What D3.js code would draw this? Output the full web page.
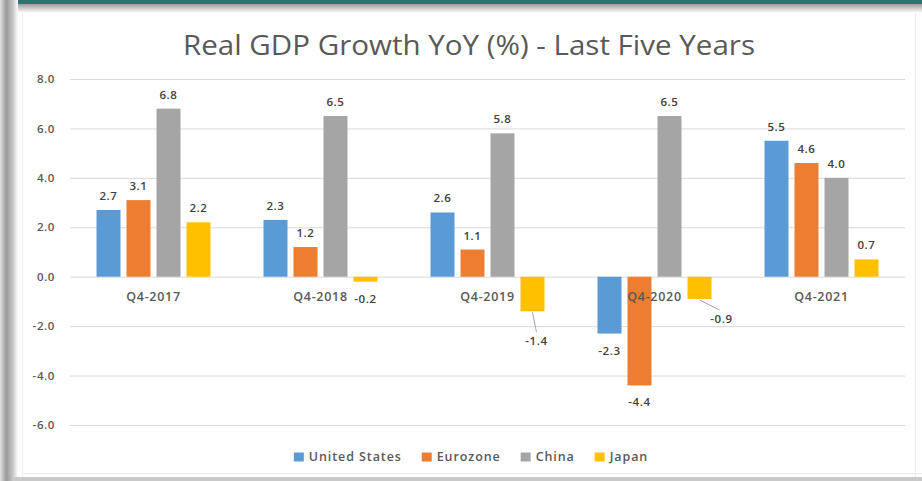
<!DOCTYPE html>
<html>
<head>
<meta charset="utf-8">
<script src="https://cdn.jsdelivr.net/npm/d3@7"></script>
<style>
  html, body { margin: 0; padding: 0; background: #ffffff; }
  svg { display: block; }
  text { font-family: "Open Sans", "Noto Sans", sans-serif; }
</style>
</head>
<body>
<svg id="chart" width="922" height="481"></svg>
<script>
// Quarterly real GDP growth, year over year (%)
const quarters = ["Q4-2017", "Q4-2018", "Q4-2019", "Q4-2020", "Q4-2021"];
const seriesNames = ["United States", "Eurozone", "China", "Japan"];
const unitedStates = [2.7, 2.3, 2.6, -2.3, 5.5];
const eurozone = [3.1, 1.2, 1.1, -4.4, 4.6];
const china = [6.8, 6.5, 5.8, 6.5, 4.0];
const japan = [2.2, -0.2, -1.4, -0.9, 0.7];
const yTicks = [-6, -4, -2, 0, 2, 4, 6, 8];

const seriesValues = [unitedStates, eurozone, china, japan];
const colors = ["#5b9bd5", "#ed7d31", "#a5a5a5", "#ffc000"];

// one decimal, plain hyphen for negatives
const fmt = v => v.toFixed(1);

// Data labels that sit away from their bar, joined by a leader line
const callouts = {
  "Japan|Q4-2019": { dx: 4, dy: 34 },
  "Japan|Q4-2020": { dx: 22, dy: 24 }
};

const W = 922, H = 481;
const plot = { left: 70, right: 905, top: 79, bottom: 425 };

const svg = d3.select("#chart");
const defs = svg.append("defs");

// ---- card frame: teal top strip and soft grey edges ----
const topShade = defs.append("linearGradient").attr("id", "topShade")
  .attr("x1", 0).attr("y1", 0).attr("x2", 0).attr("y2", 1);
topShade.append("stop").attr("offset", "0%").attr("stop-color", "#9c9c9c");
topShade.append("stop").attr("offset", "100%").attr("stop-color", "#ffffff");

const leftShade = defs.append("linearGradient").attr("id", "leftShade")
  .attr("x1", 0).attr("y1", 0).attr("x2", 1).attr("y2", 0);
leftShade.append("stop").attr("offset", "0%").attr("stop-color", "#e2e2e2");
leftShade.append("stop").attr("offset", "35%").attr("stop-color", "#9a9a9a");
leftShade.append("stop").attr("offset", "70%").attr("stop-color", "#c4c4c4");
leftShade.append("stop").attr("offset", "100%").attr("stop-color", "#ffffff");

svg.append("rect").attr("x", 0).attr("y", 0).attr("width", W).attr("height", H).attr("fill", "#ffffff");
svg.append("rect").attr("x", 14).attr("y", 4).attr("width", W - 14).attr("height", 9).attr("fill", "url(#topShade)");
svg.append("rect").attr("x", 14).attr("y", 0).attr("width", W - 14).attr("height", 4).attr("fill", "#2b7570");
svg.append("rect").attr("x", 0).attr("y", 0).attr("width", 18).attr("height", H).attr("fill", "url(#leftShade)");
svg.append("rect").attr("x", 14).attr("y", 477).attr("width", W - 14).attr("height", 4).attr("fill", "#c9c9c9");
svg.append("line").attr("x1", 22).attr("x2", W).attr("y1", 473.5).attr("y2", 473.5).attr("stroke", "#ececec");
svg.append("line").attr("x1", 915.5).attr("x2", 915.5).attr("y1", 13).attr("y2", 477).attr("stroke", "#ececec");
svg.append("line").attr("x1", 22.5).attr("x2", 22.5).attr("y1", 13).attr("y2", 477).attr("stroke", "#f0f0f0");

// ---- title ----
svg.append("text")
  .attr("x", 469).attr("y", 55)
  .attr("text-anchor", "middle")
  .attr("font-size", 27)
  .attr("fill", "#595959")
  .attr("textLength", 572)
  .attr("lengthAdjust", "spacingAndGlyphs")
  .text("Real GDP Growth YoY (%) - Last Five Years");

// ---- scales ----
const y = d3.scaleLinear().domain([-6, 8]).range([plot.bottom, plot.top]);
const x0 = d3.scaleBand().domain(quarters).range([plot.left, plot.right]).padding(0);
const groupPad = (x0.bandwidth() - 114) / 2;
const x1 = d3.scaleBand().domain(seriesNames)
  .range([groupPad, x0.bandwidth() - groupPad])
  .paddingInner(0.2).paddingOuter(0);

// ---- gridlines and value axis ----
const yAxis = d3.axisLeft(y).tickValues(yTicks)
  .tickSize(-(plot.right - plot.left)).tickPadding(15)
  .tickFormat(fmt);
const gy = svg.append("g").attr("transform", `translate(${plot.left},0)`).call(yAxis);
gy.select(".domain").remove();
gy.selectAll(".tick line").attr("stroke", "#d9d9d9").attr("stroke-width", 1);
gy.selectAll(".tick text")
  .attr("fill", "#595959").attr("font-size", 11.5).attr("font-weight", 600)
  .style("font-family", "'Open Sans', sans-serif")
  .attr("letter-spacing", 0.6);

// ---- bars ----
const rows = [];
quarters.forEach((q, i) => {
  seriesNames.forEach((s, j) => rows.push({ q, s, j, v: seriesValues[j][i] }));
});

const groups = svg.append("g").selectAll("g").data(quarters).join("g")
  .attr("transform", d => `translate(${x0(d)},0)`);

groups.selectAll("rect")
  .data(q => rows.filter(r => r.q === q))
  .join("rect")
  .attr("x", d => x1(d.s))
  .attr("width", x1.bandwidth())
  .attr("y", d => y(Math.max(0, d.v)))
  .attr("height", d => Math.abs(y(d.v) - y(0)))
  .attr("fill", d => colors[d.j]);

// ---- category labels below the zero line ----
svg.append("g").selectAll("text").data(quarters).join("text")
  .attr("x", d => x0(d) + x0.bandwidth() / 2)
  .attr("y", y(0) + 24)
  .attr("text-anchor", "middle")
  .attr("font-size", 12.5).attr("font-weight", 600)
  .attr("letter-spacing", 0.7)
  .attr("fill", "#595959")
  .text(d => d);

// ---- data labels ----
const labelLayer = svg.append("g");
rows.forEach(d => {
  const cx = x0(d.q) + x1(d.s) + x1.bandwidth() / 2;
  const end = y(d.v);
  const c = callouts[d.s + "|" + d.q];
  let lx = cx, ly = d.v >= 0 ? end - 10 : end + 21;
  if (c) {
    lx = cx + c.dx;
    ly = end + c.dy;
    labelLayer.append("line")
      .attr("x1", cx).attr("y1", end + 1)
      .attr("x2", lx + (c.dx > 10 ? -2 : 0)).attr("y2", ly - 13)
      .attr("stroke", "#a6a6a6").attr("stroke-width", 1);
  }
  labelLayer.append("text")
    .attr("x", lx).attr("y", ly)
    .attr("text-anchor", "middle")
    .attr("font-size", 11.5).attr("font-weight", 600)
    .attr("letter-spacing", 0.6)
    .attr("fill", "#404040")
    .text(fmt(d.v));
});

// ---- legend ----
const legend = svg.append("g").attr("transform", "translate(0,461)");
const items = [];
seriesNames.forEach((s, j) => {
  const g = legend.append("g");
  g.append("rect").attr("x", 0).attr("y", -8.5).attr("width", 10).attr("height", 9)
    .attr("fill", colors[j]);
  const t = g.append("text").attr("x", 15).attr("y", 0)
    .attr("font-size", 12.5).attr("font-weight", 600)
    .attr("letter-spacing", 0.9)
    .attr("fill", "#595959").text(s);
  const w = 15 + t.node().getComputedTextLength();
  items.push({ g, w });
});
const gap = 20;
const total = d3.sum(items, d => d.w) + gap * (items.length - 1);
let cursor = 471 - total / 2;
items.forEach(it => {
  it.g.attr("transform", `translate(${cursor},0)`);
  cursor += it.w + gap;
});
</script>
</body>
</html>
